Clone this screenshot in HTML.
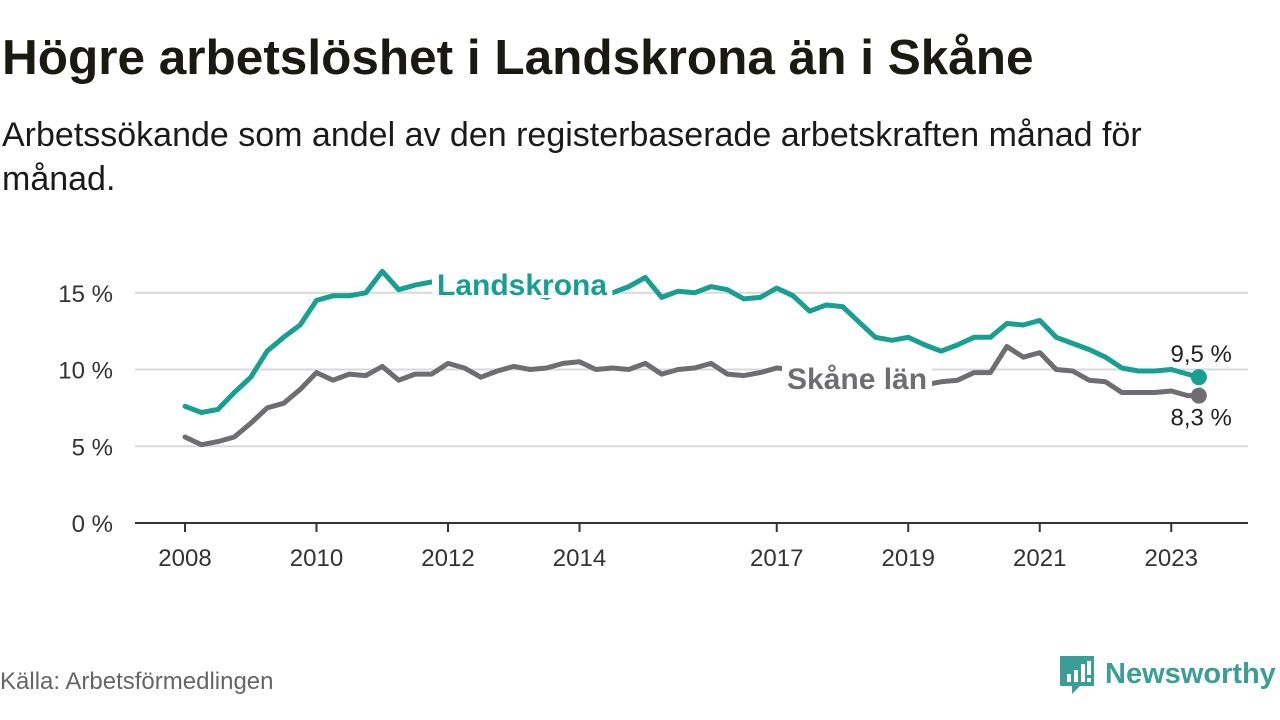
<!DOCTYPE html>
<html><head><meta charset="utf-8">
<style>
body{margin:0;width:1280px;height:720px;background:#fff;font-family:"Liberation Sans",sans-serif;overflow:hidden;position:relative;color:#111}
#title{position:absolute;left:2px;top:30px;font-size:49.5px;line-height:56px;font-weight:bold;color:#1a1a12;margin:0;white-space:nowrap}
#subtitle{position:absolute;left:2px;top:113px;font-size:34px;line-height:44px;color:#1a1a1a;width:1200px;margin:0}
#source{position:absolute;left:0;top:668px;font-size:24px;color:#666}
#logo{position:absolute;left:1058px;top:654px}
svg text{font-family:"Liberation Sans",sans-serif}
</style></head><body>
<h1 id="title">Högre arbetslöshet i Landskrona än i Skåne</h1>
<p id="subtitle">Arbetssökande som andel av den registerbaserade arbetskraften månad för månad.</p>
<svg id="chart" width="1280" height="720" style="position:absolute;left:0;top:0"></svg>
<div id="source">Källa: Arbetsförmedlingen</div>
<div id="logo">
<svg width="222" height="42">
<path d="M2 2h34v30h-14l-8 8v-8h-12z" fill="#3a9e96"/>
<rect x="9" y="20" width="4" height="8" fill="#fff"/><rect x="16" y="16" width="4" height="12" fill="#fff"/><rect x="23" y="10" width="4" height="18" fill="#fff"/><rect x="29" y="7" width="4" height="14" fill="#fff"/><rect x="29" y="24" width="4" height="4" fill="#fff"/>
<text x="47" y="29" font-size="29" font-weight="bold" fill="#3a9e96">Newsworthy</text>
</svg></div>
<script>
const dates=[2008,2008.25,2008.5,2008.75,2009,2009.25,2009.5,2009.75,2010,2010.25,2010.5,2010.75,2011,2011.25,2011.5,2011.75,2012,2012.25,2012.5,2012.75,2013,2013.25,2013.5,2013.75,2014,2014.25,2014.5,2014.75,2015,2015.25,2015.5,2015.75,2016,2016.25,2016.5,2016.75,2017,2017.25,2017.5,2017.75,2018,2018.25,2018.5,2018.75,2019,2019.25,2019.5,2019.75,2020,2020.25,2020.5,2020.75,2021,2021.25,2021.5,2021.75,2022,2022.25,2022.5,2022.75,2023,2023.25,2023.42];
const landskrona=[7.6,7.2,7.4,8.5,9.5,11.2,12.1,12.9,14.5,14.8,14.8,15.0,16.4,15.2,15.5,15.7,15.6,15.3,14.8,15.2,15.4,15.0,14.7,15.1,15.3,15.0,15.0,15.4,16.0,14.7,15.1,15.0,15.4,15.2,14.6,14.7,15.3,14.8,13.8,14.2,14.1,13.1,12.1,11.9,12.1,11.6,11.2,11.6,12.1,12.1,13.0,12.9,13.2,12.1,11.7,11.3,10.8,10.1,9.9,9.9,10.0,9.7,9.5];
const skane=[5.6,5.1,5.3,5.6,6.5,7.5,7.8,8.7,9.8,9.3,9.7,9.6,10.2,9.3,9.7,9.7,10.4,10.1,9.5,9.9,10.2,10.0,10.1,10.4,10.5,10.0,10.1,10.0,10.4,9.7,10.0,10.1,10.4,9.7,9.6,9.8,10.1,10.0,9.8,9.6,9.5,9.3,9.2,9.1,9.0,9.0,9.2,9.3,9.8,9.8,11.5,10.8,11.1,10.0,9.9,9.3,9.2,8.5,8.5,8.5,8.6,8.3,8.3];
const yTicks=[0,5,10,15];
const yTickLabels=["0 %","5 %","10 %","15 %"];
const xTicks=[2008,2010,2012,2014,2017,2019,2021,2023];
const xTickLabels=["2008","2010","2012","2014","2017","2019","2021","2023"];
const endLabels=["9,5 %","8,3 %"];
const NS="http://www.w3.org/2000/svg";
const svg=document.getElementById('chart');
const X=d=>185+(d-2008)*65.75;
const Y=v=>523-v*15.35;
function mk(t,a,p){const e=document.createElementNS(NS,t);for(const k in a)e.setAttribute(k,a[k]);(p||svg).appendChild(e);return e;}
yTicks.forEach((v,i)=>{
 if(v>0){const g=mk('line',{x1:135,x2:1248,y1:Y(v),y2:Y(v),stroke:'#d9d9d9','stroke-width':2});
 
 }
 const t=mk('text',{x:113,y:Y(v)+9,'font-size':24,fill:'#333','text-anchor':'end'});t.textContent=yTickLabels[i];
 
 
});
const ax=mk('line',{x1:135,x2:1248,y1:Y(0),y2:Y(0),stroke:'#333','stroke-width':2});


xTicks.forEach((d,i)=>{
 const tk=mk('line',{x1:X(d),x2:X(d),y1:Y(0),y2:Y(0)+9,stroke:'#333','stroke-width':2});
 
 
 const t=mk('text',{x:X(d),y:Y(0)+43,'font-size':24,fill:'#333','text-anchor':'middle'});t.textContent=xTickLabels[i];
 
 
});
function line(vals,color,name){
 const p=mk('path',{d:vals.map((v,i)=>(i?'L':'M')+X(dates[i]).toFixed(1)+' '+Y(v).toFixed(1)).join(''),fill:'none',stroke:color,'stroke-width':5,'stroke-linejoin':'round','stroke-linecap':'round'});
 
 
 const n=vals.length-1;
 const c=mk('circle',{cx:X(dates[n]),cy:Y(vals[n]),r:8,fill:color});
 
 
}
line(skane,'#6f6d72','skane-line');
line(landskrona,'#17a092','landskrona-line');
function label(txt,x,y,color,name){
 const t=mk('text',{x:x,y:y,'font-size':30,'font-weight':'bold',fill:color});
 t.textContent=txt;
 
 
 const b=t.getBBox();
 const r=mk('rect',{x:b.x-5,y:b.y+2,width:b.width+10,height:b.height-6,fill:'#fff'});
 svg.insertBefore(r,t);
}
label('Landskrona',437,295,'#17a092','landskrona-label');
label('Skåne län',787,389,'#6f6d72','skane-label');
const n=dates.length-1;
const e1=mk('text',{x:X(dates[n])+33,y:Y(landskrona[n])-15,'font-size':24,fill:'#222','text-anchor':'end'});e1.textContent=endLabels[0];


const e2=mk('text',{x:X(dates[n])+33,y:Y(skane[n])+30,'font-size':24,fill:'#222','text-anchor':'end'});e2.textContent=endLabels[1];


</script>
</body></html>
